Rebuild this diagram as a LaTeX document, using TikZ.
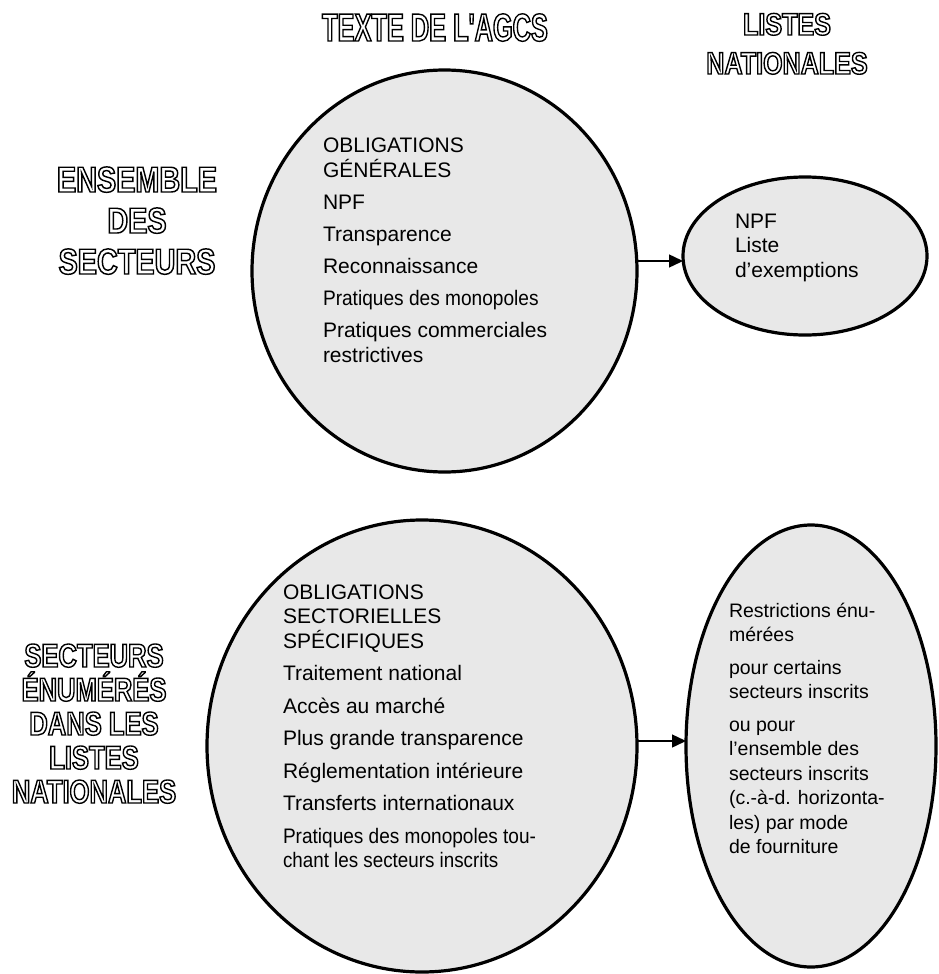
\documentclass[tikz,border=0pt]{standalone}
\usepackage{fontspec}
\setmainfont{Liberation Sans}
\newfontfamily\headA[FakeStretch=0.65, FakeBold=3.5]{Liberation Sans Bold}
\newfontfamily\headB[FakeStretch=0.80, FakeBold=4]{Liberation Sans Bold}
\newfontfamily\headC[FakeStretch=0.81, FakeBold=4.5]{Liberation Sans Bold}
\newfontfamily\headD[FakeStretch=0.775, FakeBold=4.2]{Liberation Sans Bold}
\usetikzlibrary{shapes.geometric,arrows.meta}
\definecolor{ellfill}{RGB}{232,232,232}
\newcommand\olt[1]{\special{pdf:bcolor [1] [0]}#1\special{pdf:ecolor}}
\newcommand\hl[1]{\hbox to 0pt{\hss\olt{#1}\hss}}
\newcommand\sq[2]{\hbox{\scalebox{#1}[1]{#2}}}
\tikzset{
  ell/.style={ellipse, draw=black, line width=3.2pt, fill=ellfill, inner sep=0pt, outer sep=0pt},
  head/.style={inner sep=0pt, outer sep=0pt, anchor=base},
  body/.style={inner sep=0pt, outer sep=0pt, anchor=base west, text=black},
  arr/.style={line width=1.4pt, -{Triangle[length=14pt,width=13pt]}}
}
\begin{document}
\begin{tikzpicture}[x=1pt,y=-1pt]
\useasboundingbox (0,0) rectangle (938,974);
% ellipses
\node[ell, minimum width=385pt, minimum height=402pt] (e1) at (444.5,271) {};
\node[ell, minimum width=244pt, minimum height=158pt] (e2) at (805,256) {};
\node[ell, minimum width=430pt, minimum height=452pt] (e3) at (422,746) {};
\node[ell, minimum width=250pt, minimum height=442pt] (e4) at (811,746) {};
% arrows
\coordinate (a1) at (0,261);
\coordinate (a2) at (0,741);
\draw[arr] (e1.east |- a1) -- (e2.west |- a1);
\draw[arr] (e3.east |- a2) -- (e4.west |- a2);
% headings
\node[head, font=\headA\fontsize{39}{40}\selectfont] (h1) at (435,41) {\vtop{\hl{TEXTE DE L'AGCS}}};
\node[head, font=\headC\fontsize{31}{39}\selectfont] (h2) at (787,35) {\vtop{\baselineskip=39pt\hl{LISTES}\hl{NATIONALES}}};
\node[head, font=\headB\fontsize{36}{41}\selectfont] (h3) at (137,192) {\vtop{\baselineskip=41pt\hl{ENSEMBLE}\hl{DES}\hl{SECTEURS}}};
\node[head, font=\headD\fontsize{33}{34}\selectfont] (h4) at (94,667) {\vtop{\baselineskip=34pt\hl{SECTEURS}\hl{ÉNUMÉRÉS}\hl{DANS LES}\hl{LISTES}\hl{NATIONALES}}};
% texts
\node[body, font=\fontsize{21}{25}\selectfont] (t1) at (323,152) {\vtop{\baselineskip=25pt
  \hbox{OBLIGATIONS}\hbox{GÉNÉRALES}\vskip7pt
  \hbox{NPF}\vskip7pt
  \hbox{Transparence}\vskip7pt
  \hbox{Reconnaissance}\vskip7pt
  \sq{0.91}{Pratiques des monopoles}\vskip7pt
  \hbox{Pratiques commerciales}\hbox{restrictives}}};
\node[body, font=\fontsize{21}{24.5}\selectfont] (t2) at (735,228) {\vtop{\baselineskip=24.5pt
  \hbox{NPF}\hbox{Liste}\hbox{d’exemptions}}};
\node[body, font=\fontsize{21}{24.5}\selectfont] (t3) at (283,599) {\vtop{\baselineskip=24.5pt
  \hbox{OBLIGATIONS}\hbox{SECTORIELLES}\hbox{SPÉCIFIQUES}\vskip8pt
  \hbox{Traitement national}\vskip8pt
  \hbox{Accès au marché}\vskip8pt
  \hbox{Plus grande transparence}\vskip8pt
  \hbox{Réglementation intérieure}\vskip8pt
  \hbox{Transferts internationaux}\vskip8pt
  \sq{0.907}{Pratiques des monopoles tou-}\sq{0.895}{chant les secteurs inscrits}}};
\node[body, font=\fontsize{19.5}{24.5}\selectfont] (t4) at (729,617) {\vtop{\baselineskip=24.5pt
  \hbox{Restrictions énu-}\hbox{mérées}\vskip8pt
  \hbox{pour certains}\hbox{secteurs inscrits}\vskip8pt
  \hbox{ou pour}\hbox{l’ensemble des}\hbox{secteurs inscrits}\hbox{(c.-à-d. horizonta-}\hbox{les) par mode}\hbox{de fourniture}}};
\end{tikzpicture}
\end{document}
